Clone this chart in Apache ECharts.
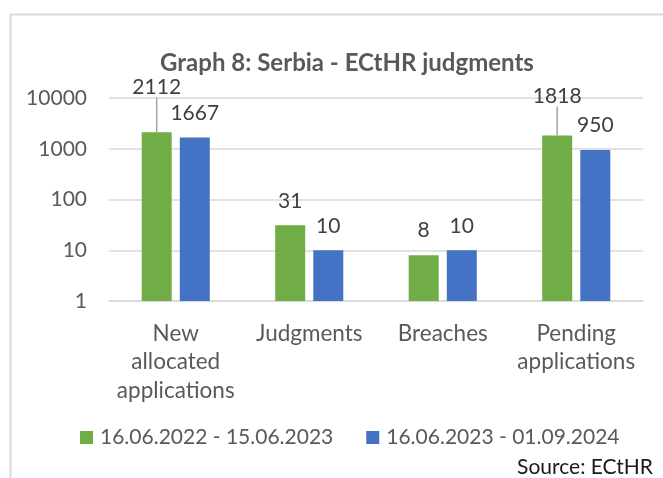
<!DOCTYPE html>
<html>
<head>
<meta charset="utf-8">
<script src="https://cdn.jsdelivr.net/npm/echarts@6/dist/echarts.min.js"></script>
<style>
  html, body { margin: 0; padding: 0; background: #fff; }
  #container { width: 663px; height: 478px; }
</style>
</head>
<body>
<div id="container"></div>
<script>
var categories = ['New\nallocated\napplications', 'Judgments', 'Breaches', 'Pending\napplications'];
var seriesNames = ['16.06.2022 - 15.06.2023', '16.06.2023 - 01.09.2024'];
var period1 = [2112, 31, 8, 1818];
var period2 = [1667, 10, 10, 950];
// labels that Excel pushed upward with a leader line (pixels)
var period1LabelShift = [-21, 0, 0, -15];

var font = 'Lato, "Open Sans", sans-serif';
var grey = '#595959';

var dom = document.getElementById('container');
var myChart = echarts.init(dom);

var period1Data = period1.map(function (v, i) {
    return {
        value: v,
        labelLine: { show: period1LabelShift[i] !== 0 }
    };
});

var option = {
    animation: false,
    textStyle: { fontFamily: font },
    title: {
        text: 'Graph 8: Serbia - ECtHR judgments',
        left: 342,
        textAlign: 'center',
        top: 46,
        textStyle: { fontFamily: font, fontSize: 24, fontWeight: 'bold', color: grey }
    },
    legend: {
        left: 75,
        top: 422,
        itemWidth: 13,
        itemHeight: 13,
        itemGap: 33,
        icon: 'rect',
        data: seriesNames,
        textStyle: { fontFamily: font, fontSize: 21, color: grey, padding: [0, 0, 0, 2] }
    },
    grid: {
        left: 109,
        right: 20,
        top: 98,
        bottom: 177
    },
    xAxis: {
        type: 'category',
        data: categories,
        axisLine: { lineStyle: { color: '#d9d9d9', width: 1.5 } },
        axisTick: { show: false },
        axisLabel: {
            color: grey,
            fontFamily: font,
            fontSize: 22.5,
            lineHeight: 28.5,
            margin: 18,
            interval: 0
        }
    },
    yAxis: {
        type: 'log',
        logBase: 10,
        min: 1,
        max: 10000,
        axisLine: { show: false },
        axisTick: { show: false },
        splitLine: { lineStyle: { color: '#d9d9d9', width: 1.5 } },
        axisLabel: {
            color: grey,
            fontFamily: font,
            fontSize: 21,
            margin: 22,
            formatter: function (v) { return String(v); }
        }
    },
    series: [
        {
            name: seriesNames[0],
            type: 'bar',
            barWidth: 30,
            barGap: '27%',
            itemStyle: { color: '#70AD47' },
            label: {
                show: true,
                position: 'top',
                distance: 14,
                color: '#404040',
                fontFamily: font,
                fontSize: 21
            },
            labelLine: {
                show: false,
                lineStyle: { color: '#a6a6a6', width: 1.5 }
            },
            labelLayout: function (params) {
                return { dy: period1LabelShift[params.dataIndex] };
            },
            data: period1Data
        },
        {
            name: seriesNames[1],
            type: 'bar',
            barWidth: 30,
            itemStyle: { color: '#4472C4' },
            label: {
                show: true,
                position: 'top',
                distance: 14,
                color: '#404040',
                fontFamily: font,
                fontSize: 21
            },
            data: period2
        }
    ],
    graphic: [
        {
            type: 'rect',
            left: 8,
            top: 12,
            shape: { width: 720, height: 520 },
            style: { fill: 'none', stroke: '#d9d9d9', lineWidth: 2 },
            silent: true
        },
        {
            type: 'text',
            right: 10,
            top: 457,
            style: {
                text: 'Source: ECtHR',
                fill: '#1a1a1a',
                font: '21px ' + font
            }
        }
    ]
};

if (option && typeof option === "object") {
    myChart.setOption(option, true);
}
</script>
</body>
</html>
